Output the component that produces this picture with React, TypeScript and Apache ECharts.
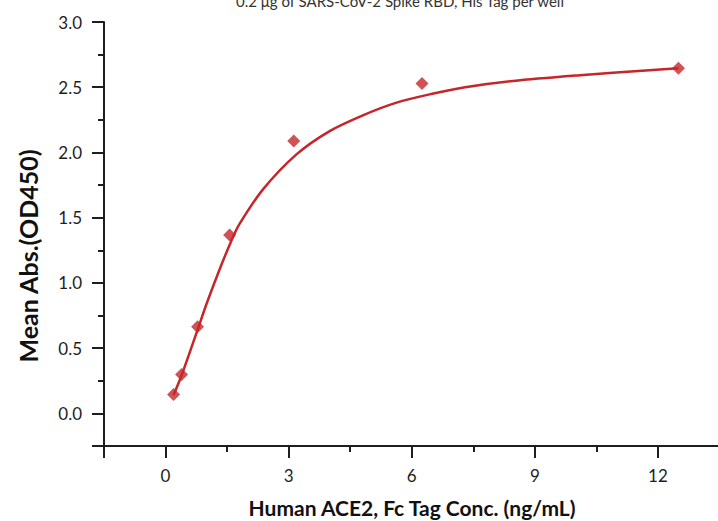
import React, { useEffect, useRef } from "react";
import * as echarts from "echarts";

// Measured points (concentration ng/mL, mean absorbance)
const concentrations = [0.195, 0.39, 0.78, 1.5625, 3.125, 6.25, 12.5];
const absorbances = [0.145, 0.298, 0.664, 1.367, 2.087, 2.528, 2.646];

// Fitted curve
const fitX = [0.195, 0.39, 0.78, 1.0, 1.3, 1.6, 1.8, 2.37, 3.19, 4.0, 4.81, 5.63, 6.5, 7.3, 8.47, 10.1, 11.7, 12.5];
const fitY = [0.14, 0.29, 0.64, 0.84, 1.09, 1.32, 1.45, 1.715, 1.985, 2.164, 2.285, 2.382, 2.45, 2.5, 2.548, 2.592, 2.628, 2.645];

const titleText = "0.2 μg of SARS-CoV-2 Spike RBD, His Tag per well";
const xName = "Human ACE2, Fc Tag Conc. (ng/mL)";
const yName = "Mean Abs.(OD450)";

const RED = "#c62629";
const AXIS = "#1e1e1e";
const FONT = "Lato";

export default function App() {
  const ref = useRef<HTMLDivElement>(null);
  useEffect(() => {
    if (!ref.current) return;
    const chart = echarts.init(ref.current, undefined, { renderer: "svg" });
    const isMultiple = (v: number, m: number) => Math.abs(v / m - Math.round(v / m)) < 1e-6;
    const tickStyle = { color: AXIS, width: 2 };
    chart.setOption({
      animation: false,
      backgroundColor: "#ffffff",
      grid: { left: 104, top: 22, bottom: 75, right: 19, containLabel: false },
      xAxis: {
        type: "value",
        min: -1.5,
        max: 15,
        splitNumber: 5,
        axisLine: { show: true, onZero: false, lineStyle: tickStyle },
        axisTick: { show: true, length: 12, lineStyle: tickStyle },
        minorTick: { show: true, splitNumber: 2, length: 6, lineStyle: tickStyle },
        axisLabel: {
          margin: 21,
          fontSize: 17,
          fontFamily: FONT,
          color: AXIS,
          showMinLabel: false,
          formatter: (v: number) => (v >= 0 && v <= 12 && isMultiple(v, 3) ? String(v) : ""),
        },
        splitLine: { show: false },
        minorSplitLine: { show: false },
      },
      yAxis: {
        type: "value",
        min: -0.25,
        max: 3,
        splitNumber: 5,
        axisLine: { show: true, onZero: false, lineStyle: tickStyle },
        axisTick: { show: true, length: 12, lineStyle: tickStyle },
        minorTick: { show: true, splitNumber: 2, length: 6, lineStyle: tickStyle },
        axisLabel: {
          margin: 22,
          fontSize: 17,
          fontFamily: FONT,
          color: AXIS,
          showMinLabel: false,
          formatter: (v: number) => (v >= 0 && isMultiple(v, 0.5) ? v.toFixed(1) : ""),
        },
        splitLine: { show: false },
        minorSplitLine: { show: false },
      },
      graphic: [
        {
          type: "text",
          x: 400,
          y: 8,
          style: {
            text: titleText,
            font: `15px ${FONT}`,
            fill: "#333",
            textAlign: "center",
            textVerticalAlign: "bottom",
          },
        },
        {
          type: "text",
          x: 412,
          y: 507,
          style: {
            text: xName,
            font: `bold 21px ${FONT}`,
            fill: "#111",
            textAlign: "center",
            textVerticalAlign: "middle",
          },
        },
        {
          type: "text",
          x: 28,
          y: 256,
          rotation: Math.PI / 2,
          style: {
            text: yName,
            font: `bold 25px ${FONT}`,
            fill: "#111",
            textAlign: "center",
            textVerticalAlign: "middle",
          },
        },
      ],
      series: [
        {
          type: "line",
          data: fitX.map((x, i) => [x, fitY[i]]),
          showSymbol: false,
          smooth: 0.3,
          lineStyle: { color: RED, width: 2.5 },
          z: 2,
        },
        {
          type: "scatter",
          data: concentrations.map((x, i) => [x, absorbances[i]]),
          symbol: "diamond",
          symbolSize: 13,
          itemStyle: { color: RED },
          z: 3,
        },
      ],
    });
    return () => chart.dispose();
  }, []);
  return (
    <div
      ref={ref}
      style={{ position: "absolute", left: 0, top: 0, width: 800, height: 521 }}
    />
  );
}
